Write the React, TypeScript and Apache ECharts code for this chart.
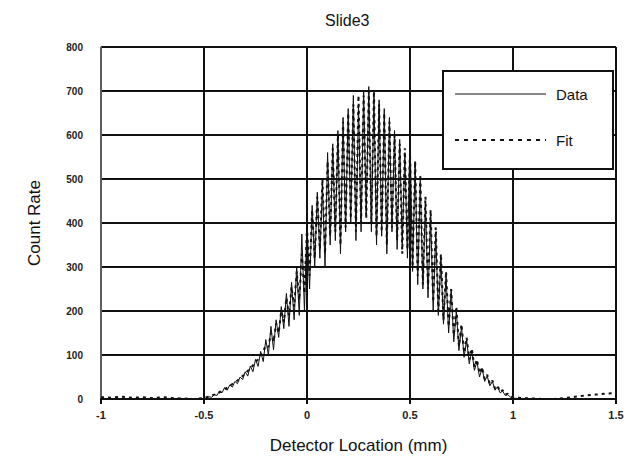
import React, { useEffect, useRef } from "react";
import * as echarts from "echarts";

const xTail1 = [-1, -0.95, -0.9, -0.85, -0.8, -0.75, -0.7, -0.65, -0.6, -0.55];
const dataTail1 = [0, 0, 0, 0, 0, 0, 0, 0, 0, 0];
const fitTail1 = [4, 3, 5, 3, 4, 2, 4, 2, 1, 0];

const xCenter = [
  -0.5, -0.4875, -0.475, -0.4625, -0.45, -0.4375, -0.425, -0.4125, -0.4, -0.3875,
  -0.375, -0.3625, -0.35, -0.3375, -0.325, -0.3125, -0.3, -0.2875, -0.275, -0.2625,
  -0.25, -0.2375, -0.225, -0.2125, -0.2, -0.1875, -0.175, -0.1625, -0.15, -0.1375,
  -0.125, -0.1125, -0.1, -0.0875, -0.075, -0.0625, -0.05, -0.0375, -0.025, -0.0125,
  0, 0.0125, 0.025, 0.0375, 0.05, 0.0625, 0.075, 0.0875, 0.1, 0.1125,
  0.125, 0.1375, 0.15, 0.1625, 0.175, 0.1875, 0.2, 0.2125, 0.225, 0.2375,
  0.25, 0.2625, 0.275, 0.2875, 0.3, 0.3125, 0.325, 0.3375, 0.35, 0.3625,
  0.375, 0.3875, 0.4, 0.4125, 0.425, 0.4375, 0.45, 0.4625, 0.475, 0.4875,
  0.5, 0.5125, 0.525, 0.5375, 0.55, 0.5625, 0.575, 0.5875, 0.6, 0.6125,
  0.625, 0.6375, 0.65, 0.6625, 0.675, 0.6875, 0.7, 0.7125, 0.725, 0.7375,
  0.75, 0.7625, 0.775, 0.7875, 0.8, 0.8125, 0.825, 0.8375, 0.85, 0.8625,
  0.875, 0.8875, 0.9, 0.9125, 0.925, 0.9375, 0.95, 0.9625, 0.975, 0.9875,
  1.0,
];
const dataCenter = [
  0, 3, 5, 4, 10, 8, 18, 14, 26, 20,
  32, 27, 40, 35, 50, 44, 62, 52, 75, 62,
  90, 74, 108, 85, 135, 100, 165, 112, 180, 140,
  210, 160, 240, 165, 265, 180, 300, 190, 375, 200,
  400, 250, 440, 300, 470, 320, 490, 300, 560, 350,
  580, 360, 610, 330, 640, 380, 660, 400, 690, 360,
  670, 380, 700, 420, 710, 380, 690, 350, 680, 370,
  660, 330, 640, 380, 610, 340, 590, 350, 560, 320,
  600, 290, 540, 260, 500, 250, 450, 230, 420, 200,
  380, 190, 320, 170, 280, 150, 250, 130, 200, 110,
  165, 95, 135, 80, 110, 65, 85, 50, 70, 40,
  52, 30, 40, 20, 28, 14, 18, 8, 10, 4,
  2,
];
const fitCenter = [
  2, 4, 6, 8, 10, 12, 15, 18, 22, 26,
  30, 34, 38, 42, 47, 52, 58, 64, 70, 76,
  84, 90, 100, 108, 122, 118, 150, 130, 172, 150,
  200, 175, 230, 190, 255, 210, 290, 225, 330, 240,
  390, 280, 430, 320, 460, 340, 500, 330, 540, 370,
  570, 380, 600, 350, 630, 390, 650, 410, 670, 380,
  690, 400, 690, 410, 700, 400, 700, 370, 670, 380,
  650, 350, 630, 390, 600, 360, 580, 330, 570, 340,
  560, 300, 540, 280, 510, 260, 460, 250, 430, 220,
  390, 200, 330, 180, 290, 165, 250, 145, 210, 120,
  170, 105, 140, 90, 115, 72, 90, 58, 72, 45,
  55, 34, 42, 24, 30, 16, 20, 10, 12, 6,
  4,
];

const xTail2 = [1.05, 1.1, 1.15, 1.2, 1.25, 1.3, 1.35, 1.4, 1.45, 1.5];
const dataTail2 = [0, 0, 0, 0, 0, 0, 0, 0, 0, 0];
const fitTail2 = [2, 1, 0, 0, 2, 5, 8, 10, 12, 14];

const xTicks = ["-1", "-0.5", "0", "0.5", "1", "1.5"];
const legendNames = ["Data", "Fit"];

const FONT = "Liberation Sans, Arial, sans-serif";

export default function App() {
  const ref = useRef<HTMLDivElement>(null);
  useEffect(() => {
    document.body.style.margin = "0";
    if (!ref.current) return;
    const chart = echarts.init(ref.current, null, { renderer: "svg" });
    const xs = [...xTail1, ...xCenter, ...xTail2];
    const ds = [...dataTail1, ...dataCenter, ...dataTail2];
    const fs = [...fitTail1, ...fitCenter, ...fitTail2];
    const dataPts = xs.map((x, i) => [x, ds[i]]);
    const fitPts = xs.map((x, i) => [x, fs[i]]);
    chart.setOption({
      animation: false,
      backgroundColor: "#fff",
      title: {
        text: "Slide3",
        left: 320,
        top: 7,
        textStyle: { fontFamily: FONT, fontSize: 16, fontWeight: "normal", color: "#111" },
      },
      grid: { left: 101, right: 11, top: 47, bottom: 69 },
      graphic: [
        {
          type: "rect",
          z: 100,
          shape: { x: 443, y: 71, width: 170, height: 98 },
          style: { fill: "#fff", stroke: "#111", lineWidth: 2 },
        },
        {
          type: "line",
          z: 101,
          shape: { x1: 455, y1: 94, x2: 546, y2: 94 },
          style: { stroke: "#111", lineWidth: 1 },
        },
        {
          type: "line",
          z: 101,
          shape: { x1: 455, y1: 140, x2: 546, y2: 140 },
          style: { stroke: "#111", lineWidth: 2, lineDash: [4, 5] },
        },
        {
          type: "text",
          z: 101,
          x: 556,
          y: 94,
          style: {
            text: legendNames[0],
            fontFamily: FONT,
            fontSize: 15,
            fill: "#111",
            verticalAlign: "middle",
          },
        },
        {
          type: "text",
          z: 101,
          x: 556,
          y: 140,
          style: {
            text: legendNames[1],
            fontFamily: FONT,
            fontSize: 15,
            fill: "#111",
            verticalAlign: "middle",
          },
        },
      ],
      xAxis: {
        type: "value",
        min: -1,
        max: 1.5,
        interval: 0.5,
        name: "Detector Location (mm)",
        nameLocation: "middle",
        nameGap: 38,
        nameTextStyle: { fontFamily: FONT, fontSize: 17, color: "#111" },
        axisLine: { lineStyle: { color: "#111", width: 2 } },
        axisTick: { show: true, length: 5, lineStyle: { color: "#111", width: 2 } },
        axisLabel: {
          fontFamily: FONT,
          fontSize: 11,
          fontWeight: "bold",
          color: "#222",
          margin: 10,
          formatter: (v: number) => xTicks[Math.round((v + 1) / 0.5)] ?? String(v),
        },
        splitLine: { show: true, lineStyle: { color: "#111", width: 2 } },
      },
      yAxis: {
        type: "value",
        min: 0,
        max: 800,
        interval: 100,
        name: "Count Rate",
        nameLocation: "middle",
        nameGap: 58,
        nameTextStyle: { fontFamily: FONT, fontSize: 17, color: "#111" },
        axisLine: { show: true, onZero: false, lineStyle: { color: "#777", width: 1.5 } },
        axisTick: { show: false },
        axisLabel: {
          fontFamily: FONT,
          fontSize: 10,
          fontWeight: "bold",
          color: "#222",
          margin: 18,
        },
        splitLine: { show: true, lineStyle: { color: "#111", width: 2 } },
      },
      series: [
        {
          name: "Data",
          type: "line",
          data: dataPts,
          symbol: "none",
          lineStyle: { color: "#111", width: 1, type: "solid" },
          itemStyle: { color: "#111" },
          z: 3,
        },
        {
          name: "Fit",
          type: "line",
          data: fitPts,
          symbol: "none",
          lineStyle: { color: "#111", width: 2, type: [3, 4] },
          itemStyle: { color: "#111" },
          z: 4,
        },
      ],
    });
    return () => chart.dispose();
  }, []);
  return <div ref={ref} style={{ width: 627, height: 468 }} />;
}
